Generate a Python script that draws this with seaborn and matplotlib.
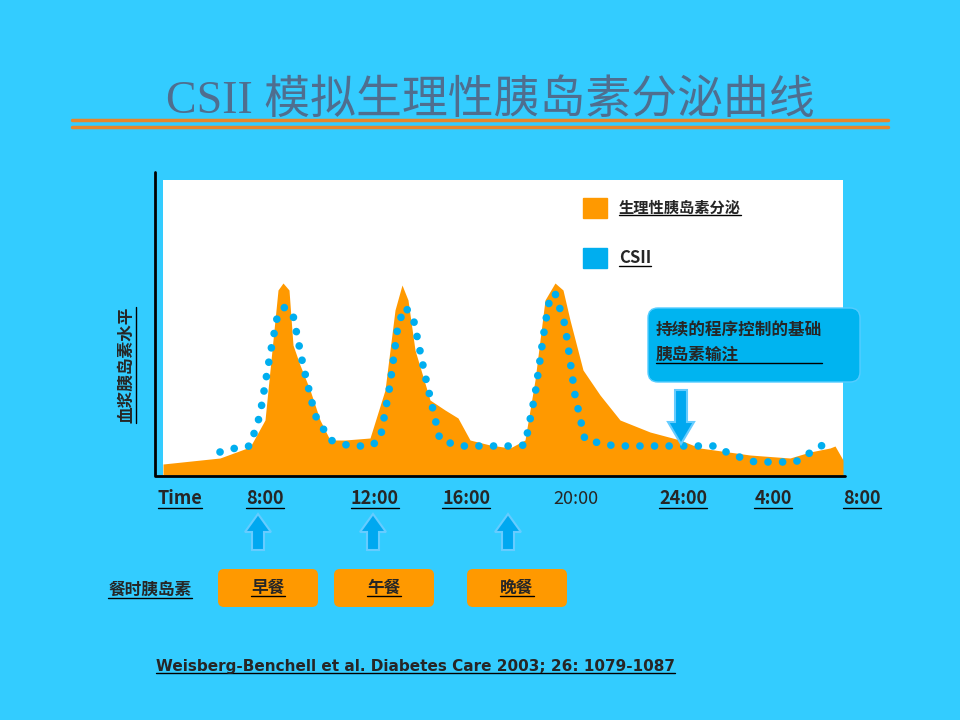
import numpy as np
import matplotlib
matplotlib.use("Agg")
import matplotlib.pyplot as plt
import seaborn as sns
import pandas as pd
from matplotlib.patches import FancyBboxPatch, FancyArrow, Rectangle

sns.set_style("white")
plt.rcParams['font.family'] = ['Noto Sans CJK SC', 'DejaVu Sans']

BG = "#33CCFF"
ORANGE = "#FF9900"
DOT = "#00AEEF"

# physiological secretion (x: position along the day axis, y: level)
phys_x = [0, 57, 87, 102, 109, 115, 120, 126, 130, 137, 147, 157, 167, 182, 207, 222, 232, 239,
          245, 252, 267, 282, 295, 307, 327, 347, 362, 372, 382, 392, 400, 407, 420, 437, 457,
          487, 517, 537, 587, 627, 647, 667, 672, 680]
phys_y = [11, 17, 28, 55, 125, 185, 192, 185, 130, 110, 85, 55, 35, 35, 37, 85, 165, 190,
          175, 125, 75, 65, 57, 35, 30, 27, 35, 95, 175, 192, 185, 155, 105, 80, 55,
          43, 35, 27, 20, 17, 23, 27, 29, 15]
# CSII profile
csii_x = [57, 77, 87, 97, 107, 115, 122, 130, 140, 152, 167, 187, 207, 217, 227, 235, 242,
          250, 262, 277, 297, 327, 352, 362, 372, 382, 387, 392, 402, 412, 422, 452,
          502, 532, 552, 567, 592, 622, 632, 642, 650, 660, 672]
csii_y = [23, 28, 29, 60, 120, 162, 168, 160, 110, 60, 35, 29, 29, 35, 90, 150, 168,
          158, 100, 35, 29, 29, 29, 30, 80, 150, 178, 182, 150, 80, 35, 29,
          29, 29, 29, 21, 13, 13, 13, 18, 25, 30, 34]

time_labels = ["Time", "8:00", "12:00", "16:00", "20:00", "24:00", "4:00", "8:00"]
time_px = [180, 265, 375, 466, 576, 683, 773, 862]
meals = ["早餐", "午餐", "晚餐"]
meal_px = [268, 384, 517]
arrow_px = [258, 373, 508]

fig = plt.figure(figsize=(9.6, 7.2), dpi=100, facecolor=BG)

ax = fig.add_axes([163/960, 1-475/720, 680/960, 295/720])
ax.set_facecolor("white")
ax.fill_between(phys_x, phys_y, 0, color=ORANGE, lw=0)
df = pd.DataFrame({"x": csii_x, "y": csii_y})
sns.lineplot(data=df, x="x", y="y", ax=ax, color=DOT, lw=5.5, sort=False,
             dashes=False, solid_capstyle="round")
ax.lines[-1].set_linestyle((0, (0.01, 1.9)))
ax.lines[-1].set_dash_capstyle("round")
ax.set_xlim(0, 680)
ax.set_ylim(0, 295)
ax.set_xlabel("")
ax.set_ylabel("")
ax.set_xticks([])
ax.set_yticks([])
for s in ax.spines.values():
    s.set_visible(False)

ov = fig.add_axes([0, 0, 1, 1])
ov.set_xlim(0, 960)
ov.set_ylim(720, 0)
ov.axis("off")
ov.patch.set_alpha(0)

# title
ov.text(490, 102, "CSII 模拟生理性胰岛素分泌曲线", ha="center", va="center", fontsize=33,
        color="#4F6E8F", family=['Liberation Serif', 'Noto Sans CJK SC'])
ov.plot([72, 888], [120, 120], color="#E8862A", lw=2.5)
ov.plot([72, 888], [127, 127], color="#E8862A", lw=2.5)

# axes lines
ov.plot([155, 155, 845], [172, 476, 476], color="black", lw=2)

ul = []
def utext(x, y, s, **kw):
    t = ov.text(x, y, s, fontweight="bold", **kw)
    ul.append(t)
    return t

# legend
ov.add_patch(Rectangle((583, 198), 24, 20, color=ORANGE))
ov.add_patch(Rectangle((583, 248), 24, 20, color=DOT))
utext(619, 208, "生理性胰岛素分泌", fontsize=11, va="center")
utext(619, 258, "CSII", fontsize=12, va="center")

# callout
ov.add_patch(FancyBboxPatch((650, 310), 208, 70, boxstyle="round,pad=2,rounding_size=10",
                            fc="#00B4F0", ec="#55CCFF", lw=1))
utext(656, 342, "持续的程序控制的基础\n胰岛素输注", fontsize=12, va="center", linespacing=1.5)
ov.add_patch(FancyArrow(681, 390, 0, 54, width=12, head_width=26, head_length=22,
                        length_includes_head=True, fc="#00A8F0", ec="#66CCFF", lw=1.5))

# y label
utext(126, 365, "血浆胰岛素水平", fontsize=12, rotation=90, ha="center", va="center")

# time labels
for lab, px in zip(time_labels, time_px):
    if lab == "20:00":
        ov.text(px, 499, lab, ha="center", va="center", fontsize=13)
    else:
        utext(px, 499, lab, ha="center", va="center", fontsize=13)

# meal arrows
for px in arrow_px:
    ov.add_patch(FancyArrow(px, 550, 0, -36, width=12, head_width=26, head_length=18,
                            length_includes_head=True, fc="#00A8F0", ec="#66CCFF", lw=1.5))

utext(150, 590, "餐时胰岛素", fontsize=12, ha="center", va="center")
for lab, px in zip(meals, meal_px):
    ov.add_patch(FancyBboxPatch((px-49, 570), 98, 36, boxstyle="round,pad=1,rounding_size=6",
                                fc=ORANGE, ec="none"))
    utext(px, 588, lab, fontsize=12, ha="center", va="center")

utext(415, 666, "Weisberg-Benchell et al. Diabetes Care 2003; 26: 1079-1087",
      fontsize=11, ha="center", va="center", family="DejaVu Sans")

# underlines
fig.canvas.draw()
inv = ov.transData.inverted()
r = fig.canvas.get_renderer()
for t in ul:
    bb = t.get_window_extent(r)
    (x0, y0), (x1, y1) = inv.transform([[bb.x0, bb.y0], [bb.x1, bb.y1]])
    if t.get_rotation() == 90:
        ov.plot([x1 + 1, x1 + 1], [y0, y1], color="black", lw=1)
    else:
        ov.plot([x0, x1], [y0 - 1, y0 - 1], color="black", lw=1)

fig.savefig("out.png", dpi=100, facecolor=BG)
